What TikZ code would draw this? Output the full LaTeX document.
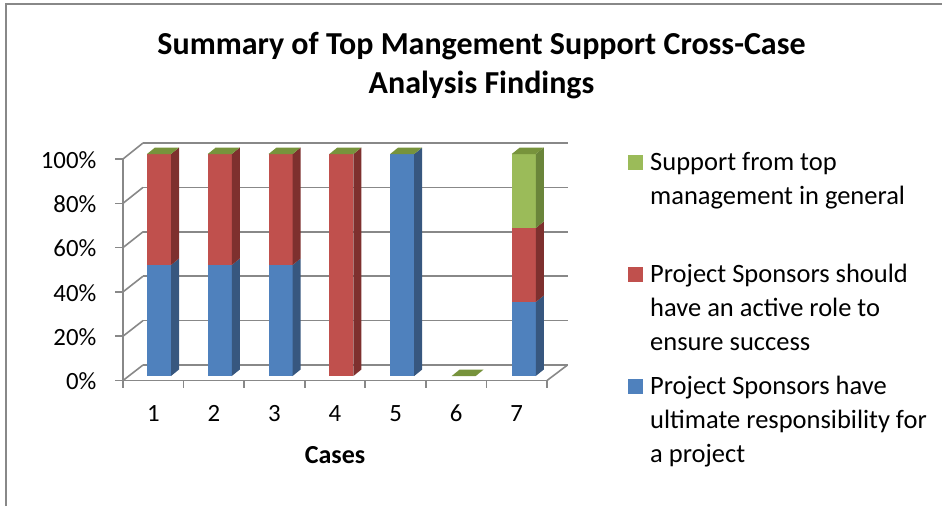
\documentclass[tikz,border=0pt]{standalone}
\usepackage{fontspec}
\setmainfont{Carlito}
\definecolor{axgray}{HTML}{888888}
\definecolor{sBlue}{HTML}{4F81BD}
\definecolor{sBlueD}{HTML}{37577F}
\definecolor{sRed}{HTML}{C0504D}
\definecolor{sRedD}{HTML}{7E302E}
\definecolor{sGreen}{HTML}{9BBB59}
\definecolor{sGreenD}{HTML}{6A853A}
\definecolor{sGreenT}{HTML}{77933C}
\newcommand\barseg[5]{%
  \pgfmathsetmacro\mya{376-222*#2}\pgfmathsetmacro\myb{376-222*#3}%
  \fill[#4] (#1,\mya) rectangle ({#1+24},\myb);
  \fill[#5] ({#1+24},\mya) -- ({#1+32},{\mya-6.5}) -- ({#1+32},{\myb-6.5}) -- ({#1+24},\myb) -- cycle;}
\newcommand\bartop[2]{%
  \pgfmathsetmacro\myb{376-222*#2}%
  \fill[sGreenT] (#1,\myb) -- ({#1+8},{\myb-6.5}) -- ({#1+32},{\myb-6.5}) -- ({#1+24},\myb) -- cycle;}
\tikzset{
  gridline/.style={draw=axgray,line width=1.6pt},
  frameline/.style={draw=axgray,line width=1.4pt},
  ticklabel/.style={font=\fontsize{24.8}{30}\selectfont,inner sep=0pt},
  legtext/.style={font=\fontsize{26.5}{34}\selectfont,align=left,inner sep=0pt,anchor=base west},
  legmark/.style={minimum size=15pt,inner sep=0pt,anchor=center}
}
\begin{document}
\begin{tikzpicture}[x=1pt,y=-1pt]
\useasboundingbox (0,0) rectangle (942,506);
% frame
\draw[frameline] (6,506) -- (6,4) -- (942,4);
% title (base = last line baseline)
\node[font=\fontsize{32}{39}\selectfont\bfseries,align=center,anchor=base,inner sep=0pt] (title) at (481.5,93.3)
  {Summary of Top Mangement Support Cross-Case\\Analysis Findings};
% back wall gridlines and side wall diagonals
\foreach \k in {0,...,5}{
  \draw[gridline] (143,{365-44.4*\k}) -- (567.5,{365-44.4*\k});
  \draw[gridline] (123,{380.5-44.3*\k}) -- (143,{365-44.4*\k});
  \draw[gridline] (115,{380.5-44.3*\k}) -- (123,{380.5-44.3*\k});
}
% floor right edge
\draw[gridline] (547,380.5) -- (567.5,365);
% front axes
\draw[gridline] (123,159) -- (123,380.5) -- (547,380.5);
\foreach \i in {0,...,7}{
  \draw[gridline] ({123+60.57*\i},380.5) -- ({123+60.57*\i},388);
}
% bars
\barseg{147}{0}{0.5}{sBlue}{sBlueD}
\barseg{147}{0.5}{1}{sRed}{sRedD}
\bartop{147}{1}
\barseg{207.8}{0}{0.5}{sBlue}{sBlueD}
\barseg{207.8}{0.5}{1}{sRed}{sRedD}
\bartop{207.8}{1}
\barseg{268.6}{0}{0.5}{sBlue}{sBlueD}
\barseg{268.6}{0.5}{1}{sRed}{sRedD}
\bartop{268.6}{1}
\barseg{329.4}{0}{1}{sRed}{sRedD}
\bartop{329.4}{1}
\barseg{390.2}{0}{1}{sBlue}{sBlueD}
\bartop{390.2}{1}
\bartop{451.7}{0}
\barseg{511.8}{0}{0.3333}{sBlue}{sBlueD}
\barseg{511.8}{0.3333}{0.6667}{sRed}{sRedD}
\barseg{511.8}{0.6667}{1}{sGreen}{sGreenD}
\bartop{511.8}{1}
% y labels
\foreach \k/\t in {0/0\%,1/20\%,2/40\%,3/60\%,4/80\%,5/100\%}{
  \node[ticklabel,anchor=base east] (yl\k) at (96.5,{389.8-44.3*\k}) {\t};
}
% x labels
\foreach \i in {1,...,7}{
  \node[ticklabel,anchor=base] (xl\i) at ({153.3+60.57*(\i-1)},421.7) {\i};
}
\node[font=\fontsize{26}{30}\selectfont\bfseries,anchor=base,inner sep=0pt] (xtitle) at (335,463.3) {Cases};
% legend (base = last line baseline)
\node[legmark,fill=sGreen] (m1) at (635.5,162.5) {};
\node[legtext] (l1) at (650,204.7) {Support from top\\management in general};
\node[legmark,fill=sRed] (m2) at (635.5,274) {};
\node[legtext] (l2) at (650,350.3) {Project Sponsors should\\have an active role to\\ensure success};
\node[legmark,fill=sBlue] (m3) at (635.5,386) {};
\node[legtext] (l3) at (650,462.3) {Project Sponsors have\\ultimate responsibility for\\a project};
\end{tikzpicture}
\end{document}
